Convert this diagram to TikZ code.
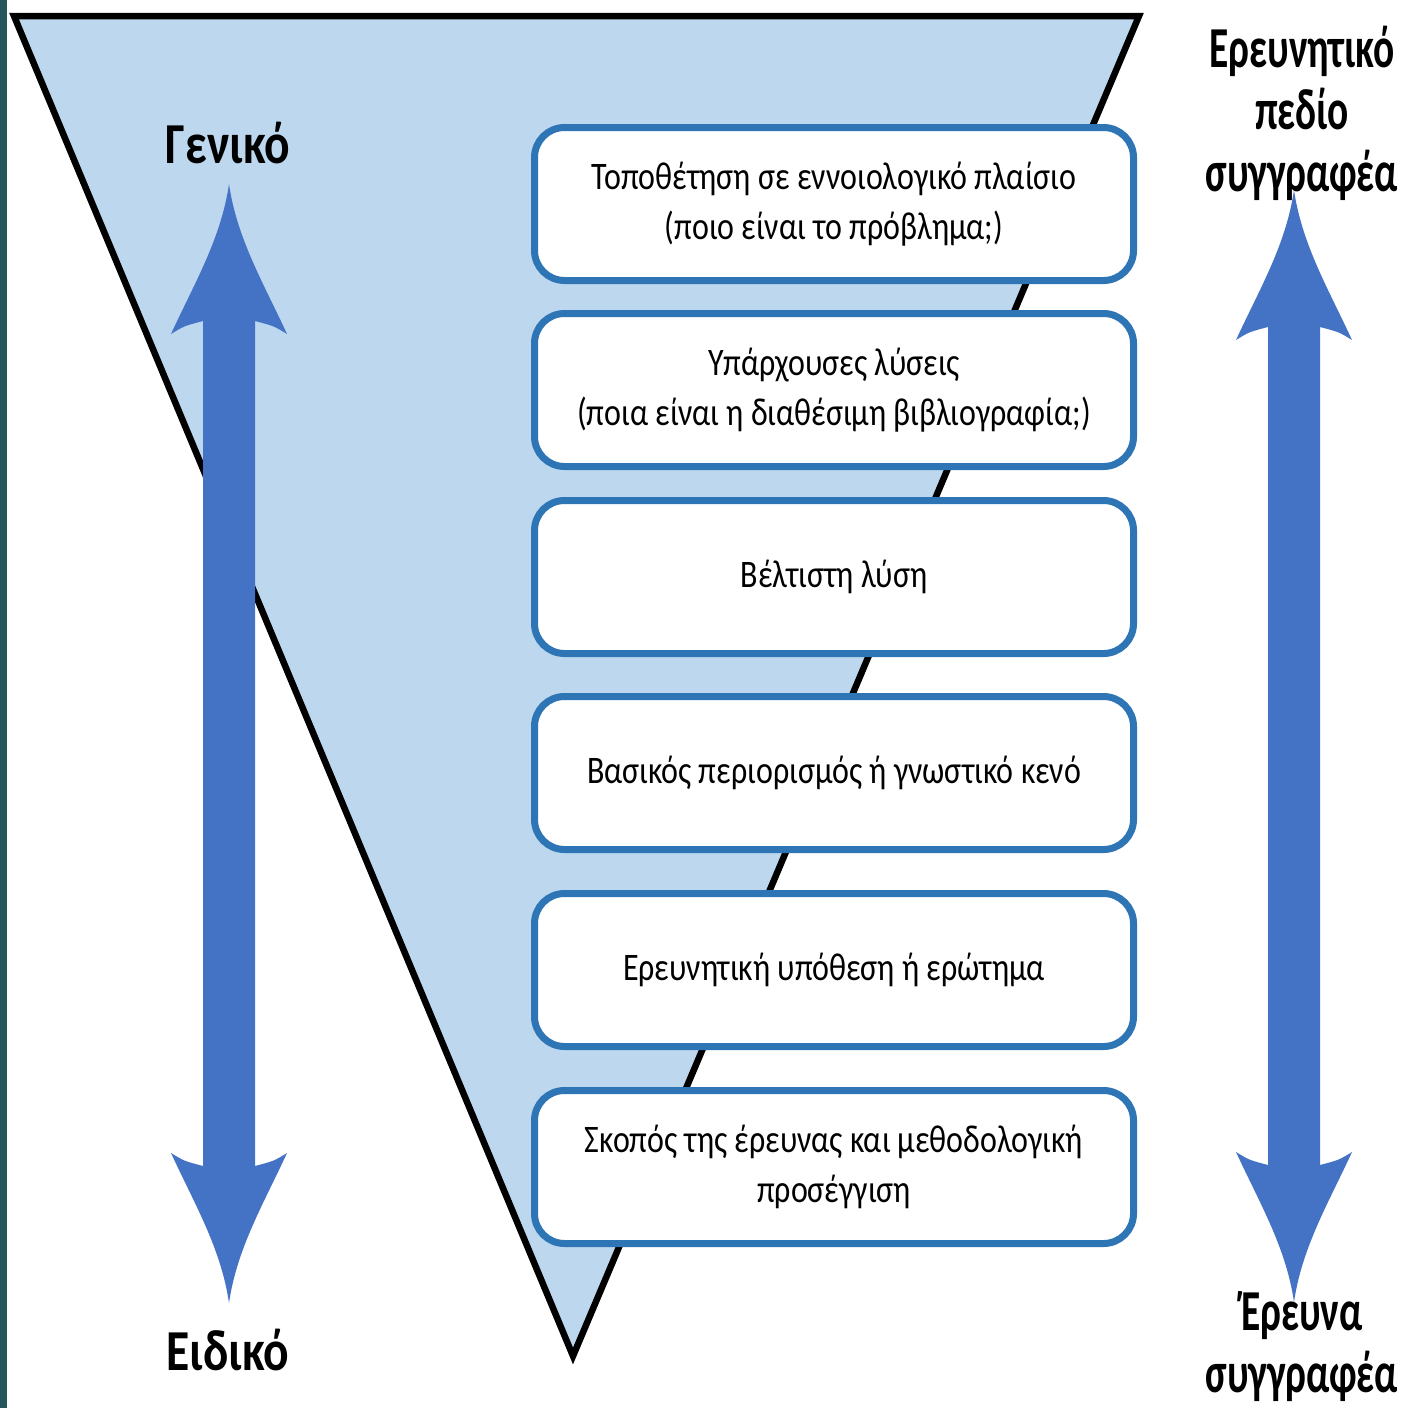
\documentclass[tikz,border=0pt]{standalone}
\usepackage{fontspec}
\setmainfont{Carlito}[FakeStretch=0.82]
\newfontfamily\narrowfont{Carlito}[FakeStretch=0.68]
\definecolor{funnelfill}{HTML}{BDD7EE}
\definecolor{boxline}{HTML}{2E75B6}
\definecolor{arrowfill}{HTML}{4472C4}
\definecolor{sidestrip}{HTML}{24565C}
\tikzset{
	stagebox/.style={draw=boxline, line width=7pt, fill=white, rounded corners=30pt,
		minimum width=599pt, minimum height=153pt, align=center,
		font=\fontsize{39}{50}\selectfont},
	sidelabel/.style={align=center, font=\fontsize{58}{63}\selectfont\bfseries},
	narrowlabel/.style={sidelabel, font=\fontsize{58}{62}\selectfont\narrowfont\bfseries},
}
% double headed block arrow: x, top tip, bottom tip
\newcommand{\bigarrow}[3]{%
	\fill[arrowfill] (#1,#2) .. controls (#1+8,#2+55) and (#1+35,#2+100) .. (#1+58,#2+150)
		.. controls (#1+45,#2+142) .. (#1+26,#2+137) -- (#1+26,#3-137)
		.. controls (#1+45,#3-142) .. (#1+58,#3-150)
		.. controls (#1+35,#3-100) and (#1+8,#3-55) .. (#1,#3)
		.. controls (#1-8,#3-55) and (#1-35,#3-100) .. (#1-58,#3-150)
		.. controls (#1-45,#3-142) .. (#1-26,#3-137) -- (#1-26,#2+137)
		.. controls (#1-45,#2+142) .. (#1-58,#2+150)
		.. controls (#1-35,#2+100) and (#1-8,#2+55) .. cycle;}
\begin{document}
\begin{tikzpicture}[x=1pt,y=-1pt]
	\useasboundingbox (0,0) rectangle (1409,1408);
	\fill[white] (0,0) rectangle (1409,1408);
	\fill[sidestrip] (0,0) rectangle (7,1408);
	%-- funnel
	\draw[fill=funnelfill, line width=6.5pt] (14,16) -- (1139,16) -- (573,1356) -- cycle;
	%-- arrows
	\bigarrow{229}{184}{1303}
	\bigarrow{1294}{190}{1302}
	%-- stages
	\node[stagebox] (s1) at (834,204) {Τοποθέτηση σε εννοιολογικό πλαίσιο\\(ποιο είναι το πρόβλημα;)};
	\node[stagebox] (s2) at (834,390) {Υπάρχουσες λύσεις\\(ποια είναι η διαθέσιμη βιβλιογραφία;)};
	\node[stagebox] (s3) at (834,577) {Βέλτιστη λύση};
	\node[stagebox] (s4) at (834,773) {Βασικός περιορισμός ή γνωστικό κενό};
	\node[stagebox] (s5) at (834,970) {Ερευνητική υπόθεση ή ερώτημα};
	\node[stagebox] (s6) at (834,1167) {Σκοπός της έρευνας και μεθοδολογική\\προσέγγιση};
	%-- labels
	\node[sidelabel] (general) at (228,143) {Γενικό};
	\node[sidelabel] (specific) at (228,1350) {Ειδικό};
	\node[narrowlabel] (field) at (1302,113) {Ερευνητικό\\πεδίο\\συγγραφέα};
	\node[narrowlabel] (research) at (1302,1347) {Έρευνα\\συγγραφέα};
\end{tikzpicture}
\end{document}
